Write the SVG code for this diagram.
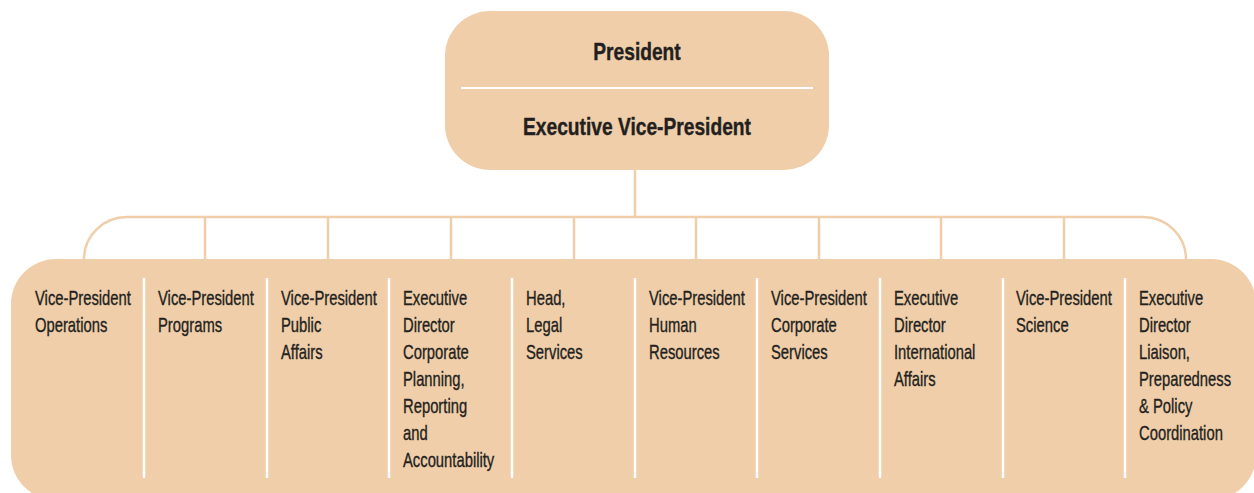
<svg xmlns="http://www.w3.org/2000/svg" width="1254" height="493" viewBox="0 0 1254 493">
<style>
.box{fill:#efcea9;}
.conn{fill:none;stroke:#efcea9;stroke-width:2.5;}
.div{stroke:#ffffff;stroke-width:2.5;}
.t{font-family:"Liberation Sans",Arial,sans-serif;font-size:20px;fill:#231f20;stroke:#231f20;stroke-width:0.35;}
.h{font-family:"Liberation Sans",Arial,sans-serif;font-size:24px;font-weight:bold;fill:#231f20;text-anchor:middle;}
</style>
<rect width="1254" height="493" fill="#ffffff"/>
<g id="connectors">
<line class="conn" x1="635" y1="170" x2="635" y2="217"/>
<path class="conn" d="M84,259 A43,42 0 0 1 127,217 L1143,217 A43,42 0 0 1 1186,259"/>
<line class="conn" x1="205" y1="217" x2="205" y2="259"/>
<line class="conn" x1="328" y1="217" x2="328" y2="259"/>
<line class="conn" x1="451" y1="217" x2="451" y2="259"/>
<line class="conn" x1="574" y1="217" x2="574" y2="259"/>
<line class="conn" x1="696" y1="217" x2="696" y2="259"/>
<line class="conn" x1="819" y1="217" x2="819" y2="259"/>
<line class="conn" x1="941" y1="217" x2="941" y2="259"/>
<line class="conn" x1="1064" y1="217" x2="1064" y2="259"/>
</g>
<g id="top">
<rect class="box" x="445" y="11" width="384" height="159" rx="45" ry="45"/>
<line x1="461" y1="88" x2="813" y2="88" stroke="#ffffff" stroke-width="2"/>
<g transform="translate(637,0) scale(0.8,1)">
<text class="h" x="0" y="60" stroke="#231f20" stroke-width="0.4">President</text>
<text class="h" x="0" y="135" stroke="#231f20" stroke-width="0.4">Executive Vice-President</text>
</g>
</g>
<g id="bottom">
<rect class="box" x="11" y="259" width="1245" height="241" rx="45" ry="45"/>
<g class="div">
<line x1="144" y1="278" x2="144" y2="478"/>
<line x1="267" y1="278" x2="267" y2="478"/>
<line x1="389" y1="278" x2="389" y2="478"/>
<line x1="512" y1="278" x2="512" y2="478"/>
<line x1="635" y1="278" x2="635" y2="478"/>
<line x1="757" y1="278" x2="757" y2="478"/>
<line x1="880" y1="278" x2="880" y2="478"/>
<line x1="1003" y1="278" x2="1003" y2="478"/>
<line x1="1125" y1="278" x2="1125" y2="478"/>
</g>
</g>
<g id="n1" transform="translate(35,0) scale(0.74,1)"><text class="t" x="0" y="305">Vice-President<tspan x="0" dy="27">Operations</tspan></text></g>
<g id="n2" transform="translate(158,0) scale(0.74,1)"><text class="t" x="0" y="305">Vice-President<tspan x="0" dy="27">Programs</tspan></text></g>
<g id="n3" transform="translate(281,0) scale(0.74,1)"><text class="t" x="0" y="305">Vice-President<tspan x="0" dy="27">Public</tspan><tspan x="0" dy="27">Affairs</tspan></text></g>
<g id="n4" transform="translate(403,0) scale(0.74,1)"><text class="t" x="0" y="305">Executive<tspan x="0" dy="27">Director</tspan><tspan x="0" dy="27">Corporate</tspan><tspan x="0" dy="27">Planning,</tspan><tspan x="0" dy="27">Reporting</tspan><tspan x="0" dy="27">and</tspan><tspan x="0" dy="27">Accountability</tspan></text></g>
<g id="n5" transform="translate(526,0) scale(0.74,1)"><text class="t" x="0" y="305">Head,<tspan x="0" dy="27">Legal</tspan><tspan x="0" dy="27">Services</tspan></text></g>
<g id="n6" transform="translate(649,0) scale(0.74,1)"><text class="t" x="0" y="305">Vice-President<tspan x="0" dy="27">Human</tspan><tspan x="0" dy="27">Resources</tspan></text></g>
<g id="n7" transform="translate(771,0) scale(0.74,1)"><text class="t" x="0" y="305">Vice-President<tspan x="0" dy="27">Corporate</tspan><tspan x="0" dy="27">Services</tspan></text></g>
<g id="n8" transform="translate(894,0) scale(0.74,1)"><text class="t" x="0" y="305">Executive<tspan x="0" dy="27">Director</tspan><tspan x="0" dy="27">International</tspan><tspan x="0" dy="27">Affairs</tspan></text></g>
<g id="n9" transform="translate(1016,0) scale(0.74,1)"><text class="t" x="0" y="305">Vice-President<tspan x="0" dy="27">Science</tspan></text></g>
<g id="n10" transform="translate(1139,0) scale(0.74,1)"><text class="t" x="0" y="305">Executive<tspan x="0" dy="27">Director</tspan><tspan x="0" dy="27">Liaison,</tspan><tspan x="0" dy="27">Preparedness</tspan><tspan x="0" dy="27">&amp; Policy</tspan><tspan x="0" dy="27">Coordination</tspan></text></g>
</svg>
